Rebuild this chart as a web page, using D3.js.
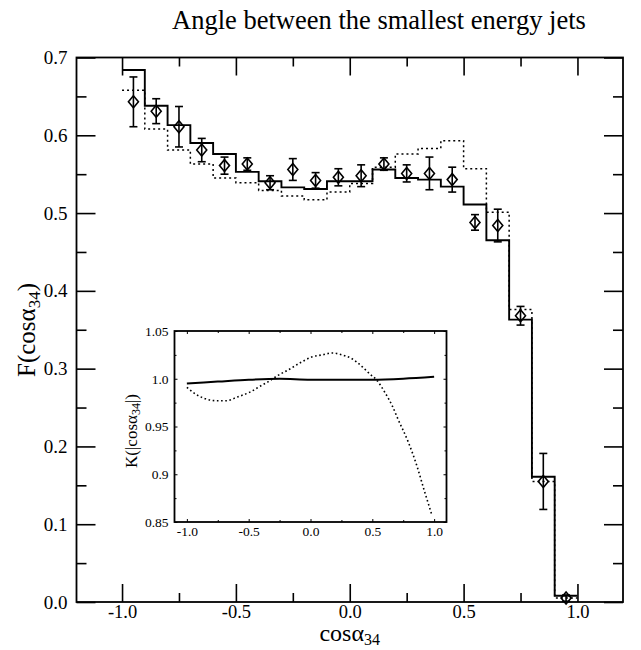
<!DOCTYPE html>
<html>
<head>
<meta charset="utf-8">
<script src="https://cdn.jsdelivr.net/npm/d3@7"></script>
<style>
  body { margin: 0; background: #fff; }
  svg text { font-family: "Liberation Serif", "Times New Roman", serif; fill: #000; }
</style>
</head>
<body>
<svg id="chart" width="641" height="650"></svg>
<script>
// bin edges of both histograms
const binEdges = [-1.0, -0.9, -0.8, -0.7, -0.6, -0.5, -0.4, -0.3, -0.2, -0.1, 0.0,
    0.1, 0.2, 0.3, 0.4, 0.5, 0.6, 0.7, 0.8, 0.9, 1.0];
// solid histogram
const solidHist = [0.684, 0.638, 0.613, 0.590, 0.576, 0.553, 0.541, 0.533, 0.531, 0.541,
    0.541, 0.556, 0.545, 0.543, 0.534, 0.511, 0.465, 0.363, 0.161, 0.008];
// dotted histogram
const dottedHist = [0.658, 0.608, 0.581, 0.563, 0.545, 0.539, 0.529, 0.522, 0.517, 0.527,
    0.538, 0.559, 0.576, 0.583, 0.593, 0.557, 0.501, 0.376, 0.155, 0.005];
// data points with errors
const ptX = [-0.95, -0.85, -0.75, -0.65, -0.55, -0.45, -0.35, -0.25, -0.15, -0.05,
    0.05, 0.15, 0.25, 0.35, 0.45, 0.55, 0.65, 0.75, 0.85, 0.95];
const ptY = [0.643, 0.631, 0.611, 0.581, 0.561, 0.563, 0.539, 0.556, 0.542, 0.546,
    0.548, 0.563, 0.551, 0.551, 0.543, 0.488, 0.484, 0.368, 0.155, 0.005];
const ptErr = [0.032, 0.016, 0.026, 0.015, 0.011, 0.008, 0.009, 0.014, 0.010, 0.011,
    0.014, 0.008, 0.011, 0.021, 0.016, 0.010, 0.021, 0.012, 0.036, 0.004];

// inset: K(|cos a34|)
const kSolidX = [-1.0, -0.75, -0.5, -0.25, 0.0, 0.25, 0.5, 0.75, 1.0];
const kSolidY = [0.995, 0.997, 0.999, 1.000, 0.999, 0.999, 0.999, 1.000, 1.002];
const kDotX = [-1.0, -0.93, -0.85, -0.76, -0.68, -0.59, -0.49, -0.41, -0.34, -0.27, -0.17,
    -0.08, 0.015, 0.095, 0.175, 0.255, 0.335, 0.415, 0.48, 0.54, 0.60, 0.66, 0.71, 0.79,
    0.86, 0.92, 0.98];
const kDotY = [0.991, 0.984, 0.979, 0.977, 0.977, 0.981, 0.986, 0.992, 0.997, 1.003, 1.010,
    1.017, 1.023, 1.025, 1.027, 1.025, 1.021, 1.013, 1.005, 0.998, 0.986, 0.972, 0.957, 0.934,
    0.909, 0.883, 0.858];

const xMajor = [-1.0, -0.5, 0.0, 0.5, 1.0];
const xMinor = [-0.75, -0.25, 0.25, 0.75];
const yMajor = [0.0, 0.1, 0.2, 0.3, 0.4, 0.5, 0.6, 0.7];
const yMinor = [0.05, 0.15, 0.25, 0.35, 0.45, 0.55, 0.65];
const kYMajor = [0.85, 0.9, 0.95, 1.0, 1.05];
const kYMinor = [0.875, 0.925, 0.975, 1.025];
const kYLabels = ['0.85', '0.9', '0.95', '1.0', '1.05'];

const fmt = d => d.toFixed(1);

const svg = d3.select('#chart');

// main plot
const x = d3.scaleLinear().domain([-1.2, 1.2]).range([76.5, 623]);
const y = d3.scaleLinear().domain([0, 0.7]).range([602, 57.5]);

svg.append('text')
    .attr('x', 379)
    .attr('y', 29)
    .attr('text-anchor', 'middle')
    .attr('font-size', '26.5px')
    .text('Angle between the smallest energy jets');

const axisG = svg.append('g').attr('class', 'axes');

function drawTicks(g, scale, orient, values, size, labels, pad) {
    const mk = { left: d3.axisLeft, right: d3.axisRight, top: d3.axisTop, bottom: d3.axisBottom }[orient];
    const ax = mk(scale).tickValues(values).tickSizeInner(-size).tickSizeOuter(0)
        .tickPadding(pad || 3)
        .tickFormat(labels ? labels : '');
    g.call(ax);
    g.select('.domain').remove();
    g.selectAll('.tick line').attr('stroke', '#000').attr('stroke-width', 1.6);
    g.selectAll('.tick text').attr('font-family', null).attr('fill', '#000');
    return g;
}

const bottomG = axisG.append('g').attr('transform', `translate(0,${y(0)})`);
drawTicks(bottomG, x, 'bottom', xMajor, 18, fmt, 3).attr('font-size', '18.5px');
drawTicks(axisG.append('g').attr('transform', `translate(0,${y(0)})`), x, 'bottom', xMinor, 9);
drawTicks(axisG.append('g').attr('transform', `translate(0,${y(0.7)})`), x, 'top', xMajor, 18);
drawTicks(axisG.append('g').attr('transform', `translate(0,${y(0.7)})`), x, 'top', xMinor, 9);
const leftG = axisG.append('g').attr('transform', `translate(${x(-1.2)},0)`);
drawTicks(leftG, y, 'left', yMajor, 19, fmt, 9).attr('font-size', '19px');
drawTicks(axisG.append('g').attr('transform', `translate(${x(-1.2)},0)`), y, 'left', yMinor, 10);
drawTicks(axisG.append('g').attr('transform', `translate(${x(1.2)},0)`), y, 'right', yMajor, 19);
drawTicks(axisG.append('g').attr('transform', `translate(${x(1.2)},0)`), y, 'right', yMinor, 10);

svg.append('rect')
    .attr('x', x(-1.2)).attr('y', y(0.7))
    .attr('width', x(1.2) - x(-1.2)).attr('height', y(0) - y(0.7))
    .attr('fill', 'none').attr('stroke', '#000').attr('stroke-width', 1.8);

// axis titles
svg.append('text')
    .attr('transform', `translate(${x(0)},641)`)
    .attr('text-anchor', 'middle')
    .attr('font-size', '24px')
    .call(t => {
        t.append('tspan').text('cos\u03B1');
        t.append('tspan').attr('font-size', '16px').attr('dy', 4).text('34');
    });

svg.append('text')
    .attr('transform', `translate(35,330) rotate(-90)`)
    .attr('text-anchor', 'middle')
    .attr('font-size', '25px')
    .call(t => {
        t.append('tspan').text('F(cos\u03B1');
        t.append('tspan').attr('font-size', '17px').attr('dy', 5).text('34');
        t.append('tspan').attr('dy', -5).text(')');
    });

// histograms as step paths
function stepPath(values) {
    const pts = [];
    values.forEach((v, i) => {
        pts.push([x(binEdges[i]), y(v)]);
        pts.push([x(binEdges[i + 1]), y(v)]);
    });
    return d3.line()(pts);
}

svg.append('path')
    .attr('d', stepPath(dottedHist))
    .attr('fill', 'none').attr('stroke', '#000')
    .attr('stroke-width', 1.5).attr('stroke-dasharray', '2,3');

svg.append('path')
    .attr('d', stepPath(solidHist))
    .attr('fill', 'none').attr('stroke', '#000')
    .attr('stroke-width', 1.9);

// data points
const pts = svg.append('g').selectAll('g.pt')
    .data(ptX.map((d, i) => ({ x: d, y: ptY[i], e: ptErr[i] })))
    .enter().append('g').attr('class', 'pt');

pts.append('line')
    .attr('x1', d => x(d.x)).attr('x2', d => x(d.x))
    .attr('y1', d => y(d.y + d.e)).attr('y2', d => y(d.y - d.e))
    .attr('stroke', '#000').attr('stroke-width', 1.6);
pts.append('line')
    .attr('x1', d => x(d.x) - 4).attr('x2', d => x(d.x) + 4)
    .attr('y1', d => y(d.y + d.e)).attr('y2', d => y(d.y + d.e))
    .attr('stroke', '#000').attr('stroke-width', 1.6);
pts.append('line')
    .attr('x1', d => x(d.x) - 4).attr('x2', d => x(d.x) + 4)
    .attr('y1', d => y(d.y - d.e)).attr('y2', d => y(d.y - d.e))
    .attr('stroke', '#000').attr('stroke-width', 1.6);
pts.append('path')
    .attr('d', d => {
        const cx = x(d.x), cy = y(d.y);
        return `M${cx} ${cy - 6}L${cx + 5} ${cy}L${cx} ${cy + 6}L${cx - 5} ${cy}Z`;
    })
    .attr('fill', 'none').attr('stroke', '#000').attr('stroke-width', 1.6);

// inset
const kx = d3.scaleLinear().domain([-1.1, 1.1]).range([174.5, 446.5]);
const ky = d3.scaleLinear().domain([0.85, 1.05]).range([522, 331]);
const inset = svg.append('g').attr('class', 'inset');

inset.append('rect')
    .attr('x', kx(-1.1)).attr('y', ky(1.05))
    .attr('width', kx(1.1) - kx(-1.1)).attr('height', ky(0.85) - ky(1.05))
    .attr('fill', '#fff');

const ib = inset.append('g').attr('transform', `translate(0,${ky(0.85)})`);
drawTicks(ib, kx, 'bottom', xMajor, 3, fmt, 4).attr('font-size', '13.5px');
drawTicks(inset.append('g').attr('transform', `translate(0,${ky(0.85)})`), kx, 'bottom', xMinor, 2);
drawTicks(inset.append('g').attr('transform', `translate(0,${ky(1.05)})`), kx, 'top', xMajor, 3);
drawTicks(inset.append('g').attr('transform', `translate(0,${ky(1.05)})`), kx, 'top', xMinor, 2);
const il = inset.append('g').attr('transform', `translate(${kx(-1.1)},0)`);
drawTicks(il, ky, 'left', kYMajor, 3, (d, i) => kYLabels[i], 6).attr('font-size', '13.5px');
drawTicks(inset.append('g').attr('transform', `translate(${kx(-1.1)},0)`), ky, 'left', kYMinor, 2);
drawTicks(inset.append('g').attr('transform', `translate(${kx(1.1)},0)`), ky, 'right', kYMajor, 3);
drawTicks(inset.append('g').attr('transform', `translate(${kx(1.1)},0)`), ky, 'right', kYMinor, 2);
inset.selectAll('.tick line').attr('stroke-width', 1);

inset.append('rect')
    .attr('x', kx(-1.1)).attr('y', ky(1.05))
    .attr('width', kx(1.1) - kx(-1.1)).attr('height', ky(0.85) - ky(1.05))
    .attr('fill', 'none').attr('stroke', '#000').attr('stroke-width', 1.8);

inset.append('text')
    .attr('transform', `translate(137,431) rotate(-90)`)
    .attr('text-anchor', 'middle')
    .attr('font-size', '17px')
    .call(t => {
        t.append('tspan').text('K(|cos\u03B1');
        t.append('tspan').attr('font-size', '12px').attr('dy', 3).text('34');
        t.append('tspan').attr('dy', -3).text('|)');
    });

const kLine = d3.line().x(d => kx(d[0])).y(d => ky(d[1])).curve(d3.curveMonotoneX);

inset.append('path')
    .attr('d', kLine(kDotX.map((d, i) => [d, kDotY[i]])))
    .attr('fill', 'none').attr('stroke', '#000')
    .attr('stroke-width', 1.6).attr('stroke-dasharray', '1.6,2.6');

inset.append('path')
    .attr('d', kLine(kSolidX.map((d, i) => [d, kSolidY[i]])))
    .attr('fill', 'none').attr('stroke', '#000')
    .attr('stroke-width', 2);
</script>
</body>
</html>
